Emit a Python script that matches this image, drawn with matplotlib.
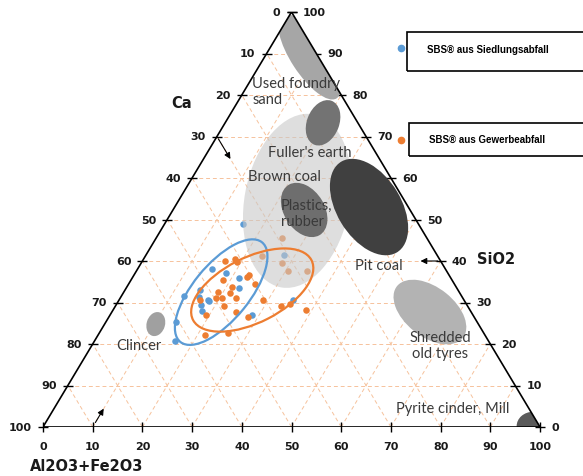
import numpy as np
import matplotlib.pyplot as plt
from matplotlib.patches import Ellipse, Polygon, Rectangle
from matplotlib.lines import Line2D

SQ = np.sqrt(3) / 2
BLUE = "#5b9bd5"
ORANGE = "#ed7d31"

# SBS samples (Al2O3+Fe2O3, SiO2; Ca is the rest)
blue_alfe = [15.8, 27.8, 15.0, 18.3, 21.5, 22.8, 15.1, 12.7, 15.7, 17.8, 18.3,
             17.0, 35.1, 28.5, 14.1, 16.2, 18.0]
blue_sio2 = [49.0, 41.5, 38.1, 37.0, 36.0, 33.4, 33.0, 31.5, 31.4, 30.6, 30.3,
             29.4, 30.6, 27.0, 25.4, 20.8, 27.9]

orange_alfe = [25.3, 23.4, 28.3, 30.6, 34.3, 16.5, 18.4, 19.2, 18.5, 23.0, 23.1,
               25.4, 21.1, 19.0, 21.5, 19.2, 20.5, 16.2, 23.3, 29.0, 21.9, 33.3,
               34.9, 38.7, 24.9, 19.3, 27.9, 25.9, 21.4]
orange_sio2 = [45.5, 41.3, 39.4, 37.5, 37.5, 40.1, 40.5, 39.8, 35.4, 36.1, 36.6,
               34.5, 33.7, 32.5, 32.3, 31.1, 31.0, 30.7, 31.0, 30.6, 29.1, 29.1,
               29.6, 28.3, 27.8, 27.0, 26.6, 22.7, 22.2]

# spread ellipses of the two sample groups
spread_alfe = [19.6, 25.6]
spread_sio2 = [32.5, 33.0]

# reference fuel areas (centre as Al2O3+Fe2O3, SiO2)
area_names = ["foundry sand", "foundry sand 2", "fuller/brown coal", "pit coal",
              "plastics", "tyres", "clincer", "pyrite"]
area_alfe = [9.0, 19.7, 23.9, 39.1, 26.4, 64.0, 10.3, 98.5]
area_sio2 = [89.2, 73.3, 54.5, 53.0, 52.3, 27.7, 24.8, 0.2]

ticks = list(range(0, 101, 10))


def tern(al_fe, sio2):
    al_fe = np.asarray(al_fe, dtype=float)
    sio2 = np.asarray(sio2, dtype=float)
    return al_fe + sio2 / 2, sio2 * SQ


def pt(al_fe, sio2):
    x, y = tern(al_fe, sio2)
    return float(x), float(y)


fig = plt.figure(figsize=(5.83, 4.77), dpi=100)
ax = fig.add_axes([43 / 583, 49 / 477, 497 / 583, 415 / 477])
ax.set_xlim(0, 100)
ax.set_ylim(0, 100 * SQ)
ax.axis("off")

# grid
grid_kw = dict(color="#f6c29c", lw=0.7, ls=(0, (4, 3)), zorder=1)
for v in ticks[1:-1]:
    ax.plot(*tern([0, 100 - v], [v, v]), **grid_kw)
    ax.plot(*tern([v, v], [0, 100 - v]), **grid_kw)
    ax.plot(*tern([100 - v, 0], [0, 100 - v]), **grid_kw)

corners = np.column_stack(tern([0, 100, 0], [0, 0, 100]))
tri = Polygon(corners, closed=True, fill=False, ec="black", lw=1.2, zorder=7)
ax.add_patch(tri)

# reference areas
area_w = [20.5, 9.8, 36.7, 22.0, 12.2, 17.1, 5.1, 6.0]
area_h = [7.4, 6.5, 21.2, 13.0, 8.2, 10.2, 3.7, 6.6]
area_ang = [-58, 70, 80, -60, -60, -40, 75, 90]
area_col = ["#a6a6a6", "#737373", "#c8c8c8", "#404040", "#6e6e6e", "#b3b3b3",
            "#a0a0a0", "#5a5a5a"]
clip = Polygon(corners, closed=True, transform=ax.transData)
for i, name in enumerate(area_names):
    light = name.startswith("fuller")
    e = Ellipse(pt(area_alfe[i], area_sio2[i]), area_w[i], area_h[i],
                angle=area_ang[i], fc=area_col[i], ec="none",
                alpha=0.6 if light else 1.0, zorder=4 if light else 5)
    ax.add_patch(e)
    e.set_clip_path(clip)

# samples
ax.scatter(*tern(blue_alfe, blue_sio2), s=22, color=BLUE, lw=0, zorder=3)
ax.scatter(*tern(orange_alfe, orange_sio2), s=22, color=ORANGE, lw=0, zorder=3)

for i, col in enumerate([BLUE, ORANGE]):
    w, h, a = [(26.5, 11.4, 52), (26.9, 13.5, 28)][i]
    ax.add_patch(Ellipse(pt(spread_alfe[i], spread_sio2[i]), w, h, angle=a,
                         fill=False, ec=col, lw=1.6, zorder=6))

# area labels
lab_kw = dict(fontfamily="Lato", fontsize=10.5, color="#3a3a3a", zorder=8)
ax.text(42.1, 70.1, "Used foundry\nsand", va="center", ha="left",
        linespacing=1.25, **lab_kw)
ax.text(45.3, 57.4, "Fuller's earth", va="center", **lab_kw)
ax.text(41.2, 52.4, "Brown coal", va="center", **lab_kw)
ax.text(47.9, 44.7, "Plastics,\nrubber", va="center", linespacing=1.25, **lab_kw)
ax.text(62.8, 33.8, "Pit coal", va="center", **lab_kw)
ax.text(14.7, 17.1, "Clincer", va="center", **lab_kw)
ax.text(79.9, 17.1, "Shredded\nold tyres", va="center", ha="center",
        linespacing=1.25, **lab_kw)
ax.text(71.0, 4.0, "Pyrite cinder, Mill", va="center", **lab_kw)

# ticks and tick labels
tk = dict(fontsize=8, fontweight="bold", color="#1a1a1a", clip_on=False,
          zorder=8)
lx, ly = tern([0] * len(ticks), [100 - t for t in ticks])
ax.plot(lx, ly, ls="none", marker="_", ms=7, mew=1, color="k", clip_on=False)
for t, x, y in zip(ticks, lx, ly):
    ax.annotate(str(t), (x, y), xytext=(-8, 0), textcoords="offset points",
                ha="right", va="center", **tk)
rx, ry = tern([100 - t for t in ticks], ticks)
ax.plot(rx, ry, ls="none", marker="_", ms=7, mew=1, color="k", clip_on=False)
for t, x, y in zip(ticks, rx, ry):
    ax.annotate(str(t), (x, y), xytext=(8, 0), textcoords="offset points",
                ha="left", va="center", **tk)
bx, by = tern(ticks, [0] * len(ticks))
ax.plot(bx, by, ls="none", marker="|", ms=7, mew=1, color="k", clip_on=False)
for t, x, y in zip(ticks, bx, by):
    ax.annotate(str(t), (x, y), xytext=(0, -13.5), textcoords="offset points",
                ha="center", va="center", **tk)

# axis titles and direction arrows
ttl = dict(fontsize=10.5, fontweight="bold", color="#1a1a1a", va="center",
           clip_on=False)
ax.text(25.8, 67.8, "Ca", ha="left", **ttl)
ax.text(87.3, 35.1, "SiO2", ha="left", **ttl)
ax.text(-2.6, -8.1, "Al2O3+Fe2O3", ha="left", **ttl)

arr = dict(arrowstyle="-|>", color="black", lw=0.8, mutation_scale=9)
ax.annotate("", xy=pt(6, 64), xytext=pt(0, 70), arrowprops=arr, zorder=8)
ax.annotate("", xy=pt(55.4, 40), xytext=pt(60, 40), arrowprops=arr, zorder=8)
ax.annotate("", xy=pt(10, 5), xytext=pt(10, 0.5), arrowprops=arr, zorder=8)

# legend boxes
legend_labels = ["SBS® aus Siedlungsabfall", "SBS® aus Gewerbeabfall"]
legend_cols = [BLUE, ORANGE]
boxes = [(407, 33, 72, 50, 49), (409, 124, 157, 140, 141)]
for label, col, (x0, top, bot, ty, my) in zip(legend_labels, legend_cols, boxes):
    fig.add_artist(Rectangle((x0 / 583, 1 - bot / 477), 0.5, (bot - top) / 477,
                             transform=fig.transFigure, fill=False, ec="black",
                             lw=1.2))
    fig.text((x0 + 20) / 583, 1 - ty / 477, label, fontfamily="Liberation Sans",
             fontweight="bold", fontsize=7, va="center")
    fig.add_artist(Line2D([401 / 583], [1 - my / 477], marker="o", ms=4.5,
                          color=col, transform=fig.transFigure))

fig.savefig("out.png", dpi=100)
